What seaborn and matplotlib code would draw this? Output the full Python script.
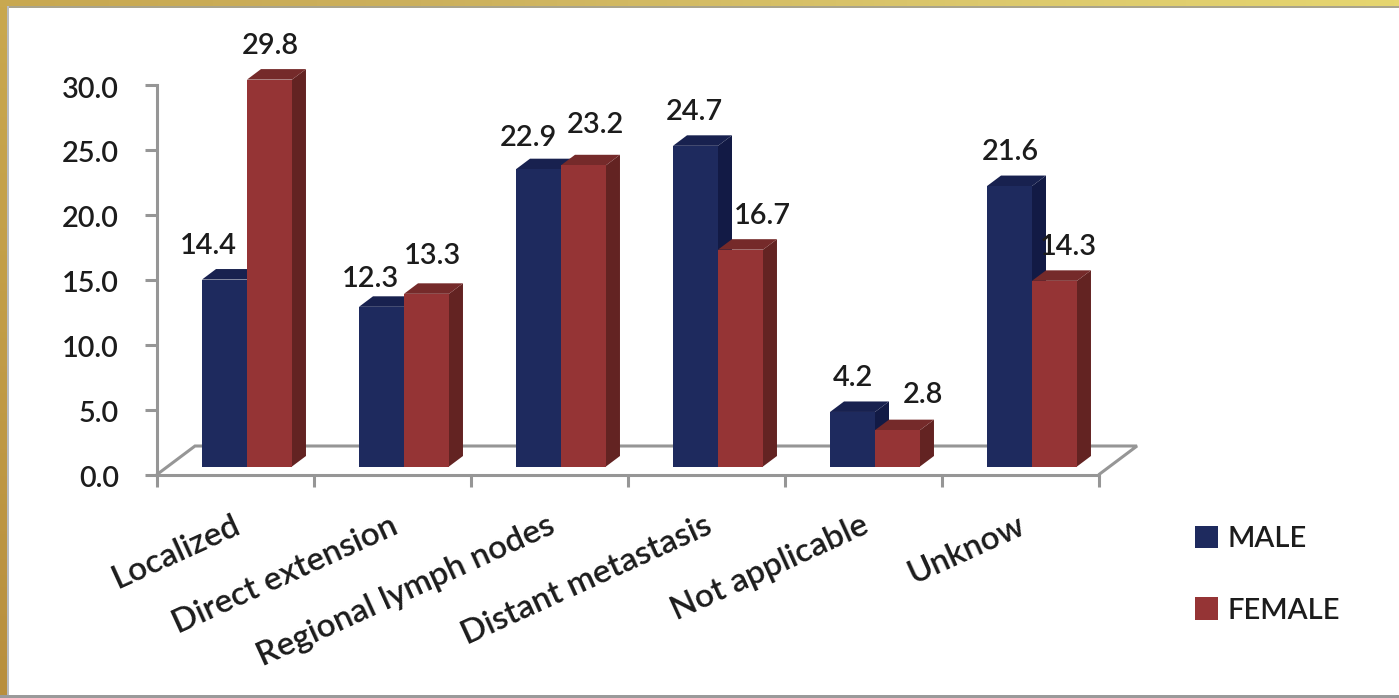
import matplotlib
matplotlib.use('Agg')
import matplotlib.pyplot as plt
import matplotlib.transforms as mtrans
import numpy as np
import pandas as pd
import seaborn as sns
from matplotlib.colors import LinearSegmentedColormap
from matplotlib.patches import Polygon, Rectangle
from matplotlib.ticker import FixedLocator, FormatStrFormatter, NullFormatter

categories = ['Localized', 'Direct extension', 'Regional lymph nodes',
              'Distant metastasis', 'Not applicable', 'Unknow']
male_values = [14.4, 12.3, 22.9, 24.7, 4.2, 21.6]
female_values = [29.8, 13.3, 23.2, 16.7, 2.8, 14.3]
y_ticks = [0, 5, 10, 15, 20, 25, 30]

# label offsets from the top of each bar, in pixels
male_nudge = [(-16, 34), (-11, 28), (-10, 31), (-1, 34), (0, 34), (1, 34)]
female_nudge = [(1, 34), (6, 38), (12, 40), (22, 34), (25, 35), (14, 34)]

W, H = 1399, 698
GREY = '#969696'
TEXT = '#1c1c1c'
colors = {'MALE': ('#1e2a5e', '#121a45', '#18214f'),
          'FEMALE': ('#953435', '#632322', '#752a2a')}

sns.set_theme(style='white')
plt.rcParams['font.family'] = ['Lato', 'DejaVu Sans']
plt.rcParams['font.weight'] = 'semibold'

fig = plt.figure(figsize=(W / 100, H / 100), dpi=100, facecolor='white')
ax = fig.add_axes([157 / W, 1 - 474.5 / H, (1099 - 157) / W, (474.5 - 85) / H])
ax.patch.set_alpha(0)

# px to data units
px_x = 6 / (1099 - 157)
px_y = 30 / (474.5 - 85)

df = pd.DataFrame({'category': categories * 2,
                   'sex': ['MALE'] * 6 + ['FEMALE'] * 6,
                   'value': male_values + female_values})

sns.barplot(data=df, x='category', y='value', hue='sex', ax=ax, width=0.573, gap=0,
            palette={k: v[0] for k, v in colors.items()}, saturation=1, errorbar=None,
            linewidth=0)

ax.set_xlim(-0.5, 5.5)
ax.set_ylim(0, 30)
ax.set_xlabel('')
ax.set_ylabel('')

# floor of the fake 3d box
floor_dx, floor_dy = 38 * px_x, 28.5 * px_y
ax.plot([-0.5, -0.5 + floor_dx, 5.5 + floor_dx, 5.5], [0, floor_dy, floor_dy, 0],
        color=GREY, lw=2.2, clip_on=False, zorder=1, solid_joinstyle='miter')

# shift the bars onto the floor and give them side and top faces
shift_x, shift_y = 11.5 * px_x, 8 * px_y
depth_x, depth_y = 14 * px_x, 10.5 * px_y
nudges = {'MALE': male_nudge, 'FEMALE': female_nudge}
for container, sex in zip(ax.containers, ['MALE', 'FEMALE']):
    front, side, top = colors[sex]
    for bar, value, (nx, ny) in zip(container, df.loc[df.sex == sex, 'value'], nudges[sex]):
        bar.set_x(bar.get_x() + shift_x)
        bar.set_y(shift_y)
        bar.set_zorder(5)
        bar.set_clip_on(False)
        x0, x1 = bar.get_x(), bar.get_x() + bar.get_width()
        y0, y1 = shift_y, shift_y + bar.get_height()
        ax.add_patch(Polygon([(x1, y0), (x1 + depth_x, y0 + depth_y),
                              (x1 + depth_x, y1 + depth_y), (x1, y1)],
                             facecolor=side, edgecolor='none', zorder=3, clip_on=False))
        ax.add_patch(Polygon([(x0, y1), (x0 + depth_x, y1 + depth_y),
                              (x1 + depth_x, y1 + depth_y), (x1, y1)],
                             facecolor=top, edgecolor='none', zorder=3, clip_on=False))
        ax.annotate(f'{value:.1f}', ((x0 + x1) / 2, y1), xytext=(nx, ny),
                    textcoords='offset pixels', ha='center', va='center',
                    fontsize=20.8, color=TEXT, zorder=6, annotation_clip=False)

# axes
sns.despine(ax=ax, top=True, right=True)
for name in ['left', 'bottom']:
    ax.spines[name].set_color(GREY)
    ax.spines[name].set_linewidth(2.2)

ax.yaxis.set_major_locator(FixedLocator(y_ticks))
ax.yaxis.set_major_formatter(FormatStrFormatter('%.1f'))
ax.tick_params(axis='y', which='major', left=True, length=8.5, width=2.2, color=GREY,
               pad=19, labelsize=20.8, labelcolor=TEXT)
down = mtrans.ScaledTranslation(0, -2 / 100, fig.dpi_scale_trans)
for label in ax.get_yticklabels():
    label.set_transform(label.get_transform() + down)

ax.xaxis.set_major_locator(FixedLocator(np.arange(-0.5, 6)))
ax.xaxis.set_major_formatter(NullFormatter())
ax.xaxis.set_minor_locator(FixedLocator(np.arange(6)))
ax.set_xticklabels(categories, minor=True)
ax.tick_params(axis='x', which='major', bottom=True, length=8.5, width=2.2, color=GREY)
ax.tick_params(axis='x', which='minor', bottom=False, length=0, pad=26, labelsize=24,
               labelcolor=TEXT)
left = mtrans.ScaledTranslation(-3 / 100, 0, fig.dpi_scale_trans)
for label in ax.get_xticklabels(minor=True):
    label.set_rotation(24.5)
    label.set_ha('right')
    label.set_rotation_mode('anchor')
    label.set_transform(label.get_transform() + left)

handles, labels = ax.get_legend_handles_labels()
ax.legend(handles, labels, loc='upper left', bbox_to_anchor=(1195 / W, 1 - 526 / H),
          bbox_transform=fig.transFigure, frameon=False, fontsize=21, handlelength=0.79,
          handleheight=0.79, handletextpad=0.32, labelspacing=1.55, labelcolor=TEXT,
          borderpad=0, borderaxespad=0)

# gold frame of the slide
gold_top = LinearSegmentedColormap.from_list(
    'gold_top', [(0, '#c8a850'), (0.3, '#ccb05c'), (0.7, '#dcc86c'), (1, '#e6d670')])
gold_left = LinearSegmentedColormap.from_list('gold_left', ['#c9a84f', '#b88f3e'])
band = fig.add_axes([0, 1 - 6 / H, 1, 6 / H], zorder=-1)
band.imshow(np.linspace(0, 1, 256)[None, :], cmap=gold_top, aspect='auto')
band.axis('off')
band = fig.add_axes([0, 0, 7 / W, 1 - 6 / H], zorder=-1)
band.imshow(np.linspace(0, 1, 256)[:, None], cmap=gold_left, aspect='auto')
band.axis('off')
for x, y, w, h, c in [(7, 6, W, 1.5, '#a9a48c'), (7, 6, 2, H, '#b9bcc0'), (0, 695, W, 3, '#9a9a9a')]:
    fig.add_artist(Rectangle((x / W, 1 - (y + h) / H), w / W, h / H, transform=fig.transFigure,
                             facecolor=c, edgecolor='none'))

fig.savefig('out.png', dpi=100)
